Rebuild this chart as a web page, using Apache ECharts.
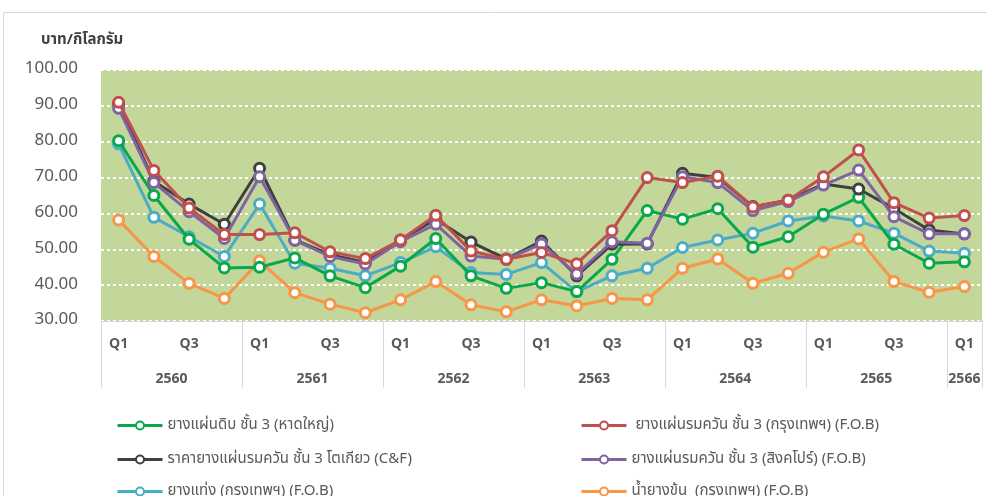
<!DOCTYPE html>
<html>
<head>
<meta charset="utf-8">
<script src="https://cdn.jsdelivr.net/npm/echarts@6/dist/echarts.min.js"></script>
<style>
  html, body { margin: 0; padding: 0; background: #fff; }
  #chart { width: 987px; height: 496px; }
</style>
</head>
<body>
<div id="chart"></div>
<script>
// quarters 2560 Q1 .. 2566 Q1
var quarters = ['Q1', 'Q2', 'Q3', 'Q4', 'Q1', 'Q2', 'Q3', 'Q4', 'Q1', 'Q2', 'Q3', 'Q4',
    'Q1', 'Q2', 'Q3', 'Q4', 'Q1', 'Q2', 'Q3', 'Q4', 'Q1', 'Q2', 'Q3', 'Q4', 'Q1'];
var years = ['2560', '2561', '2562', '2563', '2564', '2565', '2566'];
var yearLabelPos = [2, 6, 10, 14, 18, 22, 24.5];
var yearBounds = [0, 4, 8, 12, 16, 20, 24, 25];

var names = [
    'ยางแผ่นดิบ ชั้น 3 (หาดใหญ่)',
    ' ยางแผ่นรมควัน ชั้น 3 (กรุงเทพฯ) (F.O.B)',
    'ราคายางแผ่นรมควัน ชั้น 3 โตเกียว (C&F)',
    'ยางแผ่นรมควัน ชั้น 3 (สิงคโปร์) (F.O.B)',
    'ยางแท่ง (กรุงเทพฯ) (F.O.B)',
    'น้ำยางข้น  (กรุงเทพฯ) (F.O.B)'
];
var colors = ['#0aa84a', '#c0504d', '#404040', '#8064a2', '#4bacc6', '#f79646'];

var rss3Hatyai = [80.3, 65, 52.8, 44.8, 45, 47.6, 42.6, 39.3, 45.3, 53, 42.6, 39.1,
    40.7, 38.2, 47.2, 60.8, 58.4, 61.3, 50.6, 53.5, 59.8, 64.5, 51.4, 46.1, 46.5];
var rss3Bkk = [91, 72, 61.5, 54.1, 54.1, 54.6, 49.3, 47.4, 52.6, 59.5, 49.5, 47.2,
    49.1, 46, 55.2, 70, 68.6, 70.4, 61.8, 63.7, 70.2, 77.7, 63, 58.7, 59.4];
var rss3Tokyo = [90.5, 69, 62.6, 57, 72.6, 52.6, 48.5, 46.3, 52.6, 58.4, 52, 47.3,
    52.3, 42.6, 51.4, 51.5, 71.2, 70, 61.9, 63.7, 68.2, 66.8, 61.4, 55.4, 54.3];
var rss3Sing = [89.3, 68.6, 60.5, 53, 70.2, 52.5, 48, 45.9, 52.1, 57, 48.1, 47.2,
    51.5, 43.1, 52.1, 51.7, 70.2, 68.6, 60.8, 63.3, 67.9, 72.1, 59.1, 54.3, 54.3];
var str20Bkk = [79.4, 58.9, 53.5, 48, 62.6, 46.1, 44.7, 42.6, 46.3, 50.7, 43.5, 43,
    46.3, 38.2, 42.6, 44.7, 50.5, 52.6, 54.5, 57.9, 59.3, 57.9, 54.5, 49.5, 48.9];
var latexBkk = [58.2, 48, 40.5, 36.3, 46.7, 37.9, 34.7, 32.3, 35.9, 41, 34.5, 32.6,
    35.9, 34.2, 36.3, 35.9, 44.7, 47.3, 40.5, 43.3, 49.2, 52.9, 41, 38, 39.6];

var seriesData = [rss3Hatyai, rss3Bkk, rss3Tokyo, rss3Sing, str20Bkk, latexBkk];
var drawOrder = [5, 4, 0, 2, 3, 1];

var font = "Tahoma, 'Noto Sans Thai', 'Noto Sans', sans-serif";
var textGray = '#595959';

var series = drawOrder.map(function (k) {
    return {
        name: names[k],
        type: 'line',
        data: seriesData[k],
        symbol: 'circle',
        symbolSize: 10,
        lineStyle: { color: colors[k], width: 3 },
        itemStyle: { color: '#fff', borderColor: colors[k], borderWidth: 3 },
        emphasis: { disabled: true },
        z: 2 + drawOrder.indexOf(k)
    };
});

// one legend box per item: two columns, three rows
var legendLeft = [111, 575];
var legendTop = [413, 447, 479];
var legends = names.map(function (n, i) {
    return {
        data: [n],
        left: legendLeft[i % 2], top: legendTop[Math.floor(i / 2)],
        itemWidth: 45, itemHeight: 10,
        lineStyle: { width: 3 },
        textStyle: { fontSize: 15, color: textGray, fontFamily: font }
    };
});

var chart = echarts.init(document.getElementById('chart'));
chart.setOption({
    animation: false,
    color: colors,
    textStyle: { fontFamily: font },
    title: {
        text: 'บาท/กิโลกรัม',
        left: 36, top: 28,
        textStyle: { fontSize: 15, fontWeight: 'bold', color: '#404040', fontFamily: font }
    },
    graphic: [{
        type: 'rect', left: 1, top: 10, silent: true,
        shape: { width: 984, height: 490 },
        style: { fill: 'none', stroke: '#d9d9d9', lineWidth: 1 }
    }],
    legend: legends,
    grid: {
        left: 101, right: 5, top: 70, bottom: 175,
        show: true, backgroundColor: '#c4d79b', borderWidth: 0
    },
    xAxis: [{
        type: 'category',
        data: quarters,
        boundaryGap: true,
        axisLine: { show: true, lineStyle: { color: '#d9d9d9' } },
        axisTick: { show: false },
        axisLabel: { interval: 1, margin: 17, fontSize: 14, fontWeight: 'bold', color: textGray }
    }, {
        type: 'value',
        min: 0, max: 25,
        position: 'bottom',
        axisLine: { show: false },
        splitLine: { show: false },
        axisTick: {
            show: true, customValues: yearBounds, length: 67,
            lineStyle: { color: '#d9d9d9', width: 1 }
        },
        axisLabel: {
            customValues: yearLabelPos, margin: 52,
            fontSize: 14, fontWeight: 'bold', color: textGray,
            formatter: function (v) {
                return years[yearLabelPos.indexOf(v)];
            }
        }
    }],
    yAxis: {
        type: 'value',
        min: 30, max: 100, interval: 10,
        axisLine: { show: false },
        axisTick: { show: false },
        splitLine: { show: true, lineStyle: { color: '#ffffff', type: [3, 3], width: 2 } },
        axisLabel: {
            margin: 23, fontSize: 17, color: textGray,
            formatter: function (v) { return v.toFixed(2); }
        }
    },
    series: series
});
</script>
</body>
</html>
